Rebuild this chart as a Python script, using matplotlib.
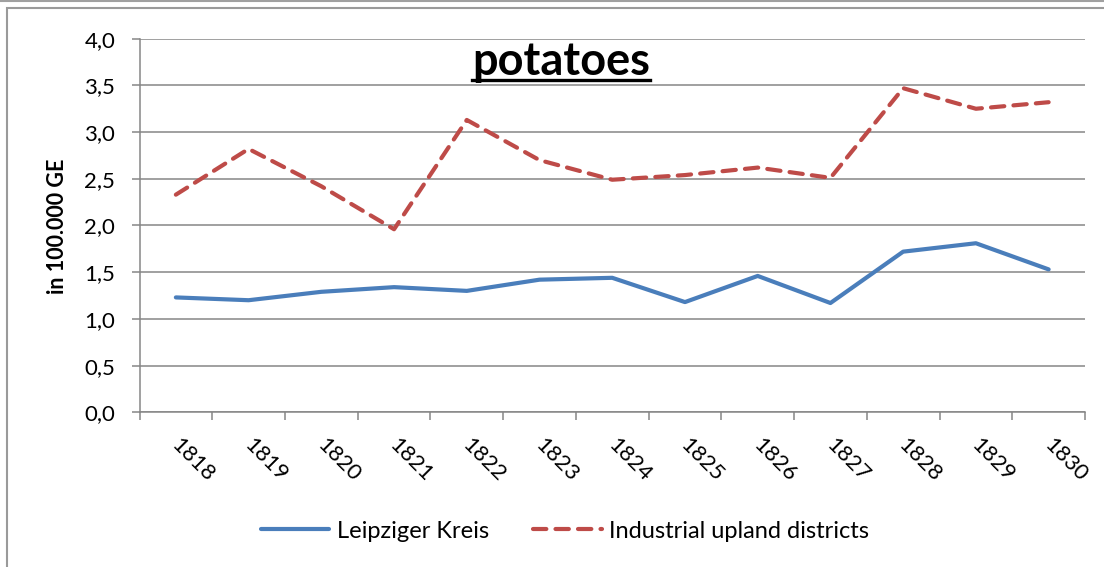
import matplotlib
matplotlib.use('Agg')

import matplotlib.pyplot as plt
import matplotlib.transforms as mtransforms
from matplotlib.lines import Line2D
from matplotlib.patches import Rectangle
import numpy as np

plt.rcParams['font.family'] = ['Lato', 'DejaVu Sans']

# data
years = ['1818', '1819', '1820', '1821', '1822', '1823', '1824',
         '1825', '1826', '1827', '1828', '1829', '1830']
leipzig = [1.23, 1.20, 1.29, 1.34, 1.30, 1.42, 1.44,
           1.18, 1.46, 1.17, 1.72, 1.81, 1.53]
upland = [2.33, 2.82, 2.42, 1.96, 3.13, 2.70, 2.49,
          2.54, 2.62, 2.51, 3.47, 3.25, 3.32]
y_ticks = [0.0, 0.5, 1.0, 1.5, 2.0, 2.5, 3.0, 3.5, 4.0]

blue = '#4A7EBB'
red = '#BE4B48'
grey = '#868686'

W, H = 1104, 567
fig = plt.figure(figsize=(W / 100, H / 100), dpi=100)
ax = fig.add_axes([139.5 / W, 1 - 412.3 / H, (1085 - 139.5) / W, (412.3 - 38.7) / H])

x = np.arange(len(years))
ax.plot(x, leipzig, color=blue, lw=3.0, solid_capstyle='round',
        solid_joinstyle='round', label='Leipziger Kreis')
ax.plot(x, upland, color=red, lw=3.0, dashes=(3.2, 2.2), dash_capstyle='round',
        label='Industrial upland districts')

ax.set_xlim(-0.5, len(years) - 0.5)
ax.set_ylim(0, 4)
ax.set_yticks(y_ticks)
ax.set_yticklabels([f'{v:.1f}'.replace('.', ',') for v in y_ticks], fontsize=16)
ax.yaxis.grid(True, color=grey, lw=1.1)
ax.set_axisbelow(True)

# category boundaries carry the tick marks, labels sit at the centres
ax.set_xticks(np.arange(len(years) + 1) - 0.5)
ax.set_xticklabels([])
ax.set_xticks(x, minor=True)
ax.set_xticklabels(years, minor=True, fontsize=16, rotation=-45,
                   ha='center', va='center', rotation_mode='anchor')
ax.tick_params(axis='x', which='major', length=6, color=grey, width=1.1)
ax.tick_params(axis='x', which='minor', length=0, pad=34.5)
ax.tick_params(axis='y', length=5.5, color=grey, width=1.1, pad=12)
shift = mtransforms.ScaledTranslation(0.17, 0, fig.dpi_scale_trans)
for lab in ax.xaxis.get_minorticklabels():
    lab.set_transform(lab.get_transform() + shift)

for s in ['top', 'right']:
    ax.spines[s].set_visible(False)
for s in ['left', 'bottom']:
    ax.spines[s].set_color(grey)
    ax.spines[s].set_linewidth(1.1)

fig.text(57.5 / W, 1 - 226 / H, 'in 100.000 GE', rotation=90, ha='center',
         va='center', fontsize=15.5, fontweight='bold')

title = fig.text(561 / W, 1 - 62 / H, 'potatoes', ha='center', va='center',
                 fontsize=32.5, fontweight='bold')

fig.legend(loc='center', bbox_to_anchor=(565 / W, 1 - 531 / H), ncol=2,
           frameon=False, fontsize=17, handlelength=2.9, handletextpad=0.3,
           columnspacing=1.9)

# chart frame like the spreadsheet export
fig.add_artist(Line2D([0, 1], [1 - 0.8 / H, 1 - 0.8 / H], color='#A0A0A0',
                      lw=1.5, transform=fig.transFigure))
fig.add_artist(Rectangle((7 / W, -0.1), 1.2, 1 - 8 / H + 0.1, fill=False,
                         edgecolor='#9A9A9A', lw=1.5, transform=fig.transFigure))

# underline the title
fig.canvas.draw()
bb = title.get_window_extent(fig.canvas.get_renderer())
uy = 1 - 80 / H
fig.add_artist(Line2D([bb.x0 / W, bb.x1 / W], [uy, uy], color='black', lw=2.4,
                      transform=fig.transFigure))

fig.savefig('out.png', dpi=100)
